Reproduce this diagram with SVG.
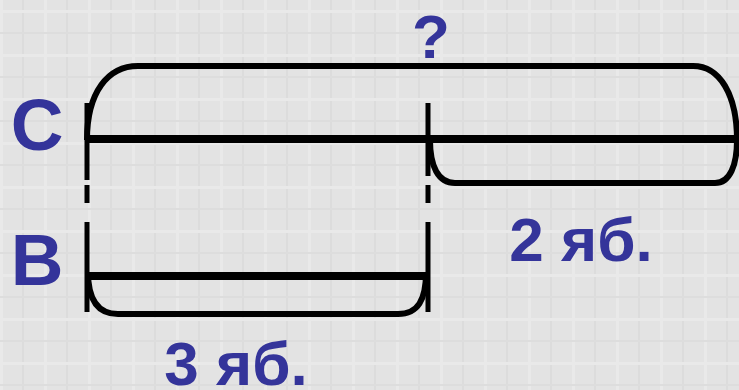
<svg xmlns="http://www.w3.org/2000/svg" width="739" height="390" viewBox="0 0 739 390">
<defs>
<pattern id="grid" width="44" height="44" patternUnits="userSpaceOnUse">
<rect width="44" height="44" fill="#e3e3e3"/>
<rect x="0" y="0" width="3" height="44" fill="#e9e9e9"/>
<rect x="22" y="0" width="2" height="44" fill="#dcdcdc"/>
<rect x="0" y="10" width="44" height="3" fill="#e9e9e9"/>
<rect x="0" y="32" width="44" height="2" fill="#dddddd"/>
</pattern>
<style>
.t{font-family:"Liberation Sans",Arial,sans-serif;font-weight:bold;fill:#34349a}
.b{fill:none;stroke:#000;stroke-width:6;stroke-linecap:butt}
.s{fill:none;stroke:#000;stroke-width:8}
.v{fill:none;stroke:#000;stroke-width:5}
</style>
</defs>
<rect width="739" height="390" fill="url(#grid)"/>
<g id="connectors">
<path class="b" d="M87 140 C87 92 108 66 138 66 L693 66 C720 66 737 95 737 140"/>
<path class="b" d="M430 140 C430 166 438 183 455 183 L715 183 C730 183 737 165 737 140"/>
<path class="b" d="M88 272 C88 300 98 314 118 314 L398 314 C418 314 426 300 426 272"/>
<path class="v" d="M87 103 V180 M87 185 V203 M87 222 V312"/>
<path class="v" d="M428 103 V176 M428 185 V203 M428 222 V312"/>
</g>
<g id="lineC">
<path class="s" d="M87 139 H737"/>
</g>
<g id="lineB">
<path class="s" d="M87 276 H428"/>
</g>
<g id="labels">
<text class="t" x="37" y="150" font-size="73" text-anchor="middle">С</text>
<text class="t" x="37" y="285" font-size="73" text-anchor="middle">В</text>
<text class="t" x="431" y="58" font-size="62" text-anchor="middle">?</text>
<text class="t" x="581" y="261" font-size="62" text-anchor="middle">2 яб.</text>
<text class="t" x="236" y="385" font-size="62" text-anchor="middle">3 яб.</text>
</g>
</svg>
